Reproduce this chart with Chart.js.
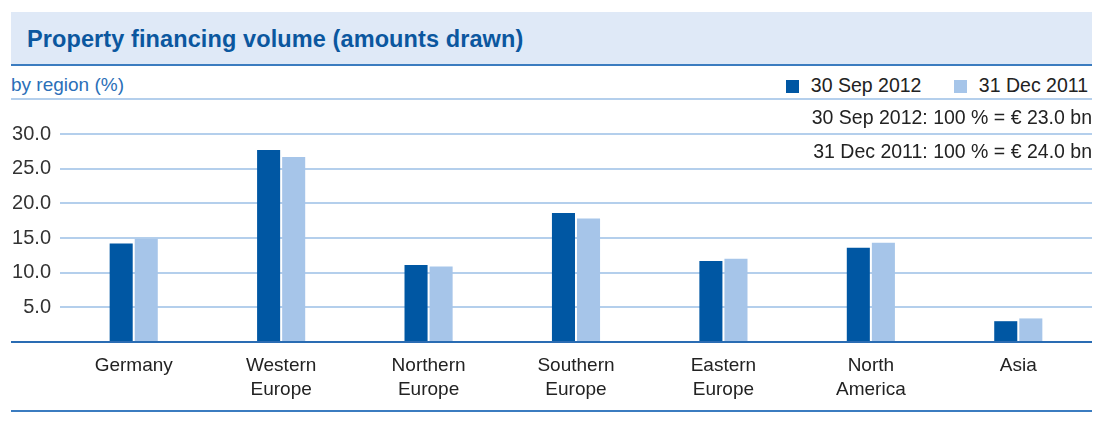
<!DOCTYPE html>
<html>
<head>
<meta charset="utf-8">
<script src="https://cdn.jsdelivr.net/npm/chart.js@4.4.0/dist/chart.umd.min.js"></script>
<style>
  body { margin: 0; background: #fff; font-family: "Liberation Sans", Arial, sans-serif; }
  .wrap { position: relative; width: 1106px; height: 423px; }
  .head { position: absolute; left: 11px; top: 12px; width: 1081px; height: 52px;
    background: #dfe9f7; border-bottom: 2px solid #3b7cc0; }
  .head h1 { margin: 0; position: absolute; left: 16px; top: 14px; font-size: 23.5px;
    font-weight: bold; color: #0b579f; letter-spacing: 0.1px; }
  .sub { position: absolute; left: 11px; top: 66px; width: 1081px; height: 32px;
    border-bottom: 2px solid #b4cfec; }
  .sub .lbl { position: absolute; left: 0; top: 8px; font-size: 19px; color: #2b6fb8; }
  .legend { position: absolute; right: 4px; top: 8px; font-size: 19.5px; color: #222; white-space: nowrap; }
  .legend span.sq { display: inline-block; width: 13px; height: 13px; margin-right: 12px; vertical-align: -1px; }
  .legend .item { margin-left: 27px; }
  .note { position: absolute; right: 14px; font-size: 19.5px; color: #222; z-index: 2; white-space: nowrap; }
  #chartBox { position: absolute; left: 11px; top: 99px; width: 1081px; height: 313px; }
  .bottom { position: absolute; left: 11px; top: 410px; width: 1081px; height: 0; border-top: 2px solid #3b7cc0; }
</style>
</head>
<body>
<div class="wrap">
  <div class="head"><h1>Property financing volume (amounts drawn)</h1></div>
  <div class="sub">
    <div class="lbl">by region (%)</div>
    <div class="legend">
      <span class="item"><span class="sq" style="background:#0057a3"></span>30 Sep 2012</span>
      <span class="item"><span class="sq" style="background:#a6c5e9"></span>31 Dec 2011</span>
    </div>
  </div>
  <div class="note" style="top:106px">30 Sep 2012: 100 % = € 23.0 bn</div>
  <div class="note" style="top:140px">31 Dec 2011: 100 % = € 24.0 bn</div>
  <div id="chartBox"><canvas id="myChart"></canvas></div>
  <div class="bottom"></div>
</div>
<script>
const regions = [
	"Germany",
	["Western", "Europe"],
	["Northern", "Europe"],
	["Southern", "Europe"],
	["Eastern", "Europe"],
	["North", "America"],
	"Asia",
];
const sep2012 = [14.2, 27.7, 11.1, 18.6, 11.7, 13.6, 3.0];
const dec2011 = [14.9, 26.7, 10.9, 17.8, 12.0, 14.3, 3.4];
const yTicks = [0, 5, 10, 15, 20, 25, 30];

// dark baseline across the full width at value 0
const baseLine = {
	id: "baseLine",
	afterDatasetsDraw(chart) {
		const y = chart.scales.y.getPixelForValue(0);
		const c = chart.ctx;
		c.save();
		c.strokeStyle = "#2a6cb3";
		c.lineWidth = 2;
		c.beginPath();
		c.moveTo(0, y);
		c.lineTo(chart.width, y);
		c.stroke();
		c.restore();
	},
};

const ctx = document.getElementById("myChart");

new Chart(ctx, {
	type: "bar",
	data: {
		labels: regions,
		datasets: [
			{
				label: "30 Sep 2012",
				data: sep2012,
				backgroundColor: "#0057a3",
				categoryPercentage: 0.34,
				barPercentage: 0.92,
			},
			{
				label: "31 Dec 2011",
				data: dec2011,
				backgroundColor: "#a6c5e9",
				categoryPercentage: 0.34,
				barPercentage: 0.92,
			},
		],
	},
	options: {
		responsive: true,
		maintainAspectRatio: false,
		animation: false,
		layout: { padding: { top: 35, right: 0, left: 0, bottom: 0 } },
		plugins: {
			legend: { display: false },
			tooltip: { enabled: false },
		},
		scales: {
			x: {
				grid: { display: false, drawTicks: false },
				border: { display: false },
				ticks: {
					color: "#222",
					font: { family: "Liberation Sans", size: 19, lineHeight: 1.3 },
					maxRotation: 0,
					padding: 11,
				},
				afterFit: (scale) => { scale.height = 70; },
			},
			y: {
				min: 0,
				max: 30,
				afterBuildTicks: (scale) => {
					scale.ticks = yTicks.map((v) => ({ value: v }));
				},
				border: { display: false },
				grid: {
					color: (c) => (c.tick && c.tick.value === 0 ? "rgba(0,0,0,0)" : "#b4cfec"),
					lineWidth: 2,
					drawTicks: false,
				},
				ticks: {
					color: "#333",
					font: { family: "Liberation Sans", size: 20 },
					padding: 9,
					callback: (v) => (v === 0 ? "" : v.toFixed(1)),
				},
				afterFit: (scale) => { scale.width = 49; },
			},
		},
	},
	plugins: [baseLine],
});
</script>
</body>
</html>
